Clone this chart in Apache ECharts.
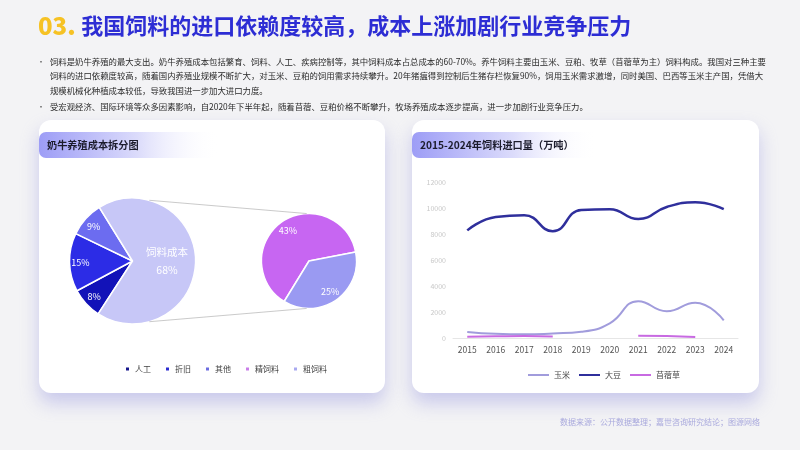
<!DOCTYPE html>
<html>
<head>
<meta charset="utf-8">
<script src="https://cdn.jsdelivr.net/npm/echarts@6/dist/echarts.min.js"></script>
<style>html,body{margin:0;padding:0;background:#f3f3f5;}#c{width:800px;height:450px;}</style>
</head>
<body>
<div id="c"></div>
<script>
// ---- data ----
const costNames = ['人工', '折旧', '其他', '饲料成本'];
const costValues = [8, 15, 9, 68];
const feedNames = ['精饲料', '粗饲料'];
const feedValues = [43, 25];
const years = ['2015', '2016', '2017', '2018', '2019', '2020', '2021', '2022', '2023', '2024'];
const corn = [470, 320, 280, 350, 480, 1130, 2835, 2060, 2710, 1360];
const soybean = [8280, 9310, 9440, 8210, 9850, 9900, 9150, 10080, 10440, 9920];
const alfalfa = [100, 130, 150, 120, null, null, 180, 150, 70, null];
const pieLegend = ['人工', '折旧', '其他', '精饲料', '粗饲料'];
const lineLegend = ['玉米', '大豆', '苜蓿草'];

const FONT = '"Noto Sans CJK SC", "Noto Sans", sans-serif';
const costColors = { '人工': '#1212b8', '折旧': '#2c2ce6', '其他': '#6c6cf0', '饲料成本': '#c7c7f7' };
const feedColors = { '精饲料': '#c766f2', '粗饲料': '#9a9af2' };
const legendColors = { '人工': '#16168c', '折旧': '#2c2cd0', '其他': '#6c6ce0', '精饲料': '#c97ee8', '粗饲料': '#a9a9f0' };

const bigC = [132.5, 261], bigR = 63;
const smallC = [309, 261], smallR = 47.5;

function pt(c, r, deg) {
  const a = deg * Math.PI / 180;
  return [c[0] + r * Math.cos(a), c[1] - r * Math.sin(a)];
}
const up1 = pt(bigC, bigR, 74.5), up2 = pt(smallC, smallR, 92.8);
const dn1 = pt(bigC, bigR, -74.5), dn2 = pt(smallC, smallR, -92.8);

const bullet1 = [
  '饲料是奶牛养殖的最大支出。奶牛养殖成本包括繁育、饲料、人工、疾病控制等，其中饲料成本占总成本的60-70%。养牛饲料主要由玉米、豆粕、牧草（苜蓿草为主）饲料构成。我国对三种主要',
  '饲料的进口依赖度较高，随着国内养殖业规模不断扩大，对玉米、豆粕的饲用需求持续攀升。20年猪瘟得到控制后生猪存栏恢复90%，饲用玉米需求激增，同时美国、巴西等玉米主产国，凭借大',
  '规模机械化种植成本较低，导致我国进一步加大进口力度。'
];
const bullet2 = '受宏观经济、国际环境等众多因素影响，自2020年下半年起，随着苜蓿、豆粕价格不断攀升，牧场养殖成本逐步提高，进一步加剧行业竞争压力。';

const textEls = [];
bullet1.forEach((t, i) => textEls.push({ type: 'text', x: 50, y: 62 + i * 14.3, style: { text: t, fontSize: 8.4, fill: '#2a2a2a', fontFamily: FONT, verticalAlign: 'middle' } }));
textEls.push({ type: 'text', x: 50, y: 107, style: { text: bullet2, fontSize: 8.4, fill: '#2a2a2a', fontFamily: FONT, verticalAlign: 'middle' } });
[62, 107].forEach(y => textEls.push({ type: 'text', x: 37, y: y, style: { text: '•', fontSize: 8, fill: '#555', fontFamily: FONT, verticalAlign: 'middle' } }));

function badge(x, w, label) {
  return [
    { type: 'rect', shape: { x: x, y: 132, width: w, height: 26, r: [7, 0, 0, 7] },
      style: { fill: new echarts.graphic.LinearGradient(0, 0, 1, 0, [
        { offset: 0, color: '#9d9df6' }, { offset: 0.55, color: '#dcdcfb' }, { offset: 1, color: 'rgba(255,255,255,0)' }]) } },
    { type: 'text', x: x + 8, y: 145, style: { text: label, fontSize: 10.2, fontWeight: 'bold', fill: '#1c1c2c', fontFamily: FONT, verticalAlign: 'middle' } }
  ];
}

function card(x, w) {
  return { type: 'rect', shape: { x: x, y: 120, width: w, height: 273, r: 12 },
    style: { fill: '#fff', shadowBlur: 18, shadowOffsetY: 10, shadowColor: 'rgba(150,150,225,0.45)' } };
}

const option = {
  backgroundColor: '#f3f3f5',
  animation: false,
  graphic: { elements: [
    card(39, 346), card(412, 347),
    ...badge(39, 180, '奶牛养殖成本拆分图'),
    ...badge(412, 185, '2015-2024年饲料进口量（万吨）'),
    { type: 'text', x: 38, y: 26, style: { rich: {
        a: { fontSize: 24, fontWeight: 900, fill: '#f6c224', fontFamily: FONT },
        b: { fontSize: 22, fontWeight: 'bold', fill: '#2d2dd4', fontFamily: FONT }
      }, text: '{a|03. }{b|我国饲料的进口依赖度较高，成本上涨加剧行业竞争压力}', verticalAlign: 'middle' } },
    ...textEls,
    { type: 'text', x: 760, y: 422, style: { text: '数据来源：公开数据整理；嘉世咨询研究结论；图源网络', fontSize: 8, fill: '#a9a9dd', fontFamily: FONT, align: 'right', verticalAlign: 'middle' } },
    { type: 'line', z: 10, shape: { x1: up1[0], y1: up1[1], x2: up2[0], y2: up2[1] }, style: { stroke: '#bdbdbd', lineWidth: 0.8 } },
    { type: 'line', z: 10, shape: { x1: dn1[0], y1: dn1[1], x2: dn2[0], y2: dn2[1] }, style: { stroke: '#bdbdbd', lineWidth: 0.8 } }
  ] },
  legend: [
    { data: pieLegend.map(n => ({ name: n, itemStyle: { color: legendColors[n] } })),
      left: 119, top: 360, icon: 'rect', itemWidth: 5, itemHeight: 5, itemGap: 13,
      textStyle: { fontSize: 8, color: '#444', fontFamily: FONT } },
    { data: lineLegend, left: 523, top: 366, icon: 'rect', itemWidth: 21, itemHeight: 2, itemGap: 9,
      textStyle: { fontSize: 8, color: '#444', fontFamily: FONT } }
  ],
  grid: { left: 453, right: 62, top: 182, bottom: 112 },
  xAxis: { type: 'category', data: years, boundaryGap: true,
    axisLine: { lineStyle: { color: '#e6e6e6' } }, axisTick: { show: false },
    axisLabel: { fontSize: 8.5, color: '#555', margin: 8, fontFamily: FONT } },
  yAxis: { type: 'value', min: 0, max: 12000, interval: 2000,
    axisLine: { show: false }, axisTick: { show: false }, splitLine: { show: false },
    axisLabel: { fontSize: 7, color: '#c8c8c8', margin: 7, fontFamily: FONT, formatter: v => String(v) } },
  series: [
    { type: 'pie', name: 'cost', center: bigC, radius: [0, bigR], startAngle: 237, clockwise: true,
      itemStyle: { borderColor: '#fff', borderWidth: 1.5 },
      label: { show: true, position: 'inside', color: '#fff', fontSize: 10.5, lineHeight: 18, fontFamily: FONT,
        formatter: p => p.name === '饲料成本' ? p.name + '\n' + p.value + '%' : '' },
      labelLine: { show: false },
      data: costNames.map((n, i) => ({ name: n, value: costValues[i], itemStyle: { color: costColors[n] } })) },
    { type: 'pie', name: 'costLabels', center: bigC, radius: [bigR * 0.56, bigR], startAngle: 237, silent: true,
      itemStyle: { color: 'rgba(0,0,0,0)' }, legendHoverLink: false,
      label: { show: true, position: 'inside', color: '#fff', fontSize: 9, fontFamily: FONT,
        formatter: p => p.name === '饲料成本' ? '' : p.value + '%' },
      labelLine: { show: false },
      data: costNames.map((n, i) => ({ name: n, value: costValues[i] })) },
    { type: 'pie', name: 'feed', center: smallC, radius: [0, smallR], startAngle: 238.5,
      itemStyle: { borderColor: '#fff', borderWidth: 1.5 },
      label: { show: false }, labelLine: { show: false },
      data: feedNames.map((n, i) => ({ name: n, value: feedValues[i], itemStyle: { color: feedColors[n] } })) },
    { type: 'pie', name: 'feedLabels', center: smallC, radius: [smallR * 0.44, smallR], startAngle: 238.5, silent: true,
      itemStyle: { color: 'rgba(0,0,0,0)' }, legendHoverLink: false,
      label: { show: true, position: 'inside', color: '#fff', fontSize: 9, fontFamily: FONT, formatter: p => p.value + '%' },
      labelLine: { show: false },
      data: feedNames.map((n, i) => ({ name: n, value: feedValues[i] })) },
    { type: 'line', name: '玉米', data: corn, smooth: true, showSymbol: false, symbol: 'none',
      lineStyle: { width: 2, color: '#a19cdc' }, itemStyle: { color: '#a19cdc' } },
    { type: 'line', name: '大豆', data: soybean, smooth: true, showSymbol: false, symbol: 'none',
      lineStyle: { width: 2.5, color: '#2f2f9c' }, itemStyle: { color: '#2f2f9c' } },
    { type: 'line', name: '苜蓿草', data: alfalfa, smooth: true, showSymbol: false, symbol: 'none',
      lineStyle: { width: 2, color: '#c86ae2' }, itemStyle: { color: '#c86ae2' } }
  ]
};
const chart = echarts.init(document.getElementById('c'), null, { renderer: 'canvas' });
chart.setOption(option);
</script>
</body>
</html>
